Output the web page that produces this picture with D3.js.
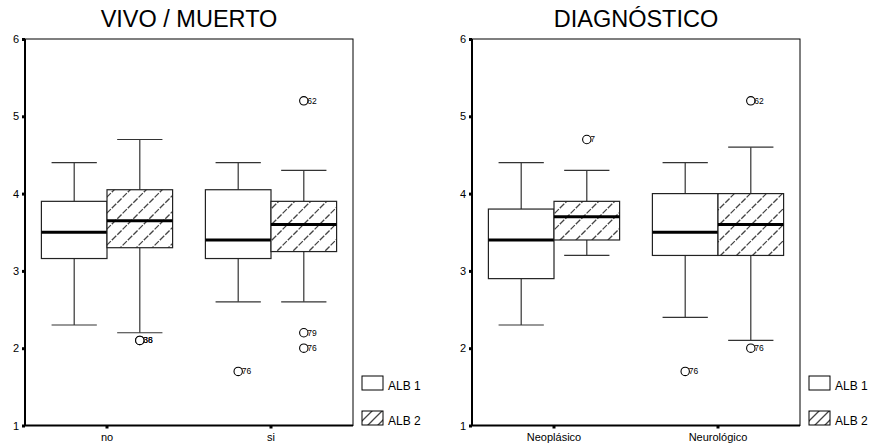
<!DOCTYPE html>
<html><head><meta charset="utf-8">
<script src="https://cdn.jsdelivr.net/npm/d3@7"></script>
<style>body{margin:0;background:#fff}svg{display:block}text{font-family:"Liberation Sans",Arial,sans-serif}</style>
</head><body>
<script>
// ---- data ----
const seriesNames = ["ALB 1", "ALB 2"];
const yTicks = [1, 2, 3, 4, 5, 6];
const vivoTitle = "VIVO / MUERTO";
const vivoCats = ["no", "si"];
// [lower whisker, Q1, median, Q3, upper whisker]
const vivoAlb1 = [[2.3, 3.16, 3.5, 3.9, 4.4], [2.6, 3.16, 3.4, 4.05, 4.4]];
const vivoAlb2 = [[2.2, 3.3, 3.65, 4.05, 4.7], [2.6, 3.25, 3.6, 3.9, 4.3]];
const vivoOutliers = [["no", "ALB 2", 2.1, "38"], ["no", "ALB 2", 2.1, "36"], ["si", "ALB 1", 1.7, "76"],
  ["si", "ALB 2", 5.2, "62"], ["si", "ALB 2", 2.2, "79"], ["si", "ALB 2", 2.0, "76"]];
const diagTitle = "DIAGNÓSTICO";
const diagCats = ["Neoplásico", "Neurológico"];
const diagAlb1 = [[2.3, 2.9, 3.4, 3.8, 4.4], [2.4, 3.2, 3.5, 4.0, 4.4]];
const diagAlb2 = [[3.2, 3.4, 3.7, 3.9, 4.3], [2.1, 3.2, 3.6, 4.0, 4.6]];
const diagOutliers = [["Neoplásico", "ALB 2", 4.7, "7"], ["Neurológico", "ALB 1", 1.7, "76"],
  ["Neurológico", "ALB 2", 5.2, "62"], ["Neurológico", "ALB 2", 2.0, "76"]];

const W = 871, H = 448;
const svg = d3.select("body").append("svg").attr("width", W).attr("height", H);

const defs = svg.append("defs");
const pat = defs.append("pattern").attr("id", "hatch").attr("patternUnits", "userSpaceOnUse")
  .attr("width", 16).attr("height", 16);
pat.append("rect").attr("width", 16).attr("height", 16).attr("fill", "#fff");
pat.append("path").attr("d", "M-4,4 L4,-4 M0,16 L16,0 M12,20 L20,12")
  .attr("stroke", "#444").attr("stroke-width", 1.3).attr("stroke-dasharray", "6,1.5");
const patL = defs.append("pattern").attr("id", "hatchL").attr("patternUnits", "userSpaceOnUse")
  .attr("width", 10).attr("height", 10);
patL.append("rect").attr("width", 10).attr("height", 10).attr("fill", "#fff");
patL.append("path").attr("d", "M0,10 L10,0 M-2,2 L2,-2 M8,12 L12,8")
  .attr("stroke", "#444").attr("stroke-width", 1.3);

function panel(opts) {
  const {x0, x1, y0, y1, title, cats, s1, s2, outliers, legX} = opts;
  const g = svg.append("g");
  const y = d3.scaleLinear().domain([1, 6]).range([y1, y0]);
  const x = d3.scaleBand().domain(cats).range([x0, x1]).padding(0);
  const boxW = (x1 - x0) * 0.2;
  const xs = d3.scaleBand().domain(seriesNames).range([-boxW, boxW]).padding(0);
  const capW = boxW * 0.69;

  // title
  g.append("text").attr("x", (x0 + x1) / 2).attr("y", 27).attr("text-anchor", "middle")
    .attr("font-size", 23.5).text(title);

  // frame
  g.append("rect").attr("x", x0).attr("y", y0).attr("width", x1 - x0).attr("height", y1 - y0)
    .attr("fill", "none").attr("stroke", "#000").attr("stroke-width", 1);

  // y axis
  const ya = g.append("g").attr("transform", `translate(${x0},0)`)
    .call(d3.axisLeft(y).tickValues(yTicks).tickSize(3).tickPadding(3).tickFormat(d3.format("d")));
  ya.select(".domain").attr("stroke", "#000").attr("stroke-width", 2).attr("d", `M0,${y1}V${y0}`);
  ya.selectAll(".tick line").attr("stroke", "#000").attr("stroke-width", 3);
  ya.selectAll(".tick text").attr("font-size", 11).attr("font-family", "Liberation Sans, Arial, sans-serif").attr("fill", "#000");

  // x axis
  const xa = g.append("g").attr("transform", `translate(0,${y1})`)
    .call(d3.axisBottom(x).tickSize(3).tickPadding(5));
  xa.select(".domain").attr("stroke", "#000").attr("stroke-width", 2).attr("d", `M${x0},0H${x1}`);
  xa.selectAll(".tick line").attr("stroke", "#000").attr("stroke-width", 3);
  xa.selectAll(".tick text").attr("font-size", 11).attr("font-family", "Liberation Sans, Arial, sans-serif").attr("fill", "#000");

  const data = [];
  cats.forEach((c, i) => {
    data.push({cat: c, ser: seriesNames[0], v: s1[i]});
    data.push({cat: c, ser: seriesNames[1], v: s2[i]});
  });

  const bg = g.selectAll(".box").data(data).enter().append("g");
  bg.each(function (d) {
    const sel = d3.select(this);
    const left = x(d.cat) + x.bandwidth() / 2 + xs(d.ser);
    const cx = left + xs.bandwidth() / 2;
    const [lo, q1, med, q3, hi] = d.v;
    const wc = "#333";
    sel.append("line").attr("x1", cx).attr("x2", cx).attr("y1", y(hi)).attr("y2", y(q3))
      .attr("stroke", wc).attr("stroke-width", 1.2);
    sel.append("line").attr("x1", cx).attr("x2", cx).attr("y1", y(q1)).attr("y2", y(lo))
      .attr("stroke", wc).attr("stroke-width", 1.2);
    sel.append("line").attr("x1", cx - capW / 2).attr("x2", cx + capW / 2).attr("y1", y(hi)).attr("y2", y(hi))
      .attr("stroke", wc).attr("stroke-width", 1.2);
    sel.append("line").attr("x1", cx - capW / 2).attr("x2", cx + capW / 2).attr("y1", y(lo)).attr("y2", y(lo))
      .attr("stroke", wc).attr("stroke-width", 1.2);
    sel.append("rect").attr("x", left).attr("y", y(q3)).attr("width", xs.bandwidth())
      .attr("height", y(q1) - y(q3))
      .attr("fill", d.ser === seriesNames[1] ? "url(#hatch)" : "#fff")
      .attr("stroke", "#222").attr("stroke-width", 1.2);
    sel.append("line").attr("x1", left).attr("x2", left + xs.bandwidth()).attr("y1", y(med)).attr("y2", y(med))
      .attr("stroke", "#000").attr("stroke-width", 3);
  });

  // outliers
  const og = g.selectAll(".out").data(outliers).enter().append("g");
  og.each(function (d) {
    const cx = x(d[0]) + x.bandwidth() / 2 + xs(d[1]) + xs.bandwidth() / 2;
    const cy = y(d[2]);
    const sel = d3.select(this);
    sel.append("circle").attr("cx", cx).attr("cy", cy).attr("r", 4.2)
      .attr("fill", "#fff").attr("stroke", "#000").attr("stroke-width", 1.1);
    sel.append("text").attr("x", cx + 3.5).attr("y", cy + 3).attr("font-size", 8.5).text(d[3]);
  });

  // legend
  const lg = g.selectAll(".leg").data(seriesNames).enter().append("g")
    .attr("transform", (d, i) => `translate(${legX},${376 + i * 35})`);
  lg.append("rect").attr("width", 21).attr("height", 14)
    .attr("fill", (d, i) => i === 1 ? "url(#hatchL)" : "#fff").attr("stroke", "#000").attr("stroke-width", 1);
  lg.append("text").attr("x", 26).attr("y", 13.5).attr("font-size", 12).text(d => d);
}

panel({x0: 25, x1: 353, y0: 39, y1: 425.5, title: vivoTitle, cats: vivoCats, s1: vivoAlb1, s2: vivoAlb2,
  outliers: vivoOutliers, legX: 362});
panel({x0: 472, x1: 800, y0: 39, y1: 425.5, title: diagTitle, cats: diagCats, s1: diagAlb1, s2: diagAlb2,
  outliers: diagOutliers, legX: 809});
</script>
</body></html>
